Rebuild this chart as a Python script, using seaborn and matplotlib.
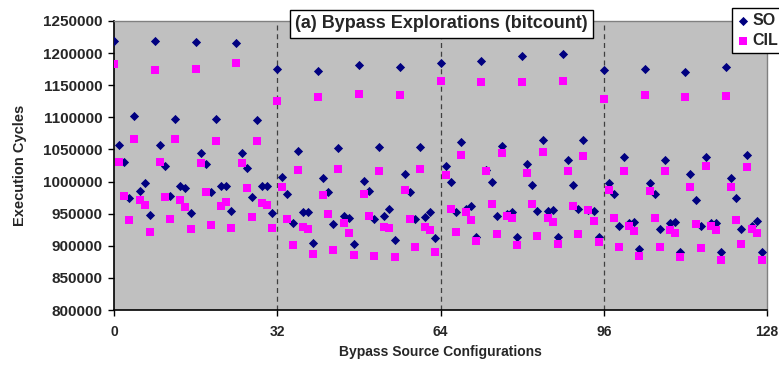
import matplotlib
matplotlib.use("Agg")
import matplotlib.pyplot as plt
import seaborn as sns
import pandas as pd

# Bypass source configurations 0..127 and execution cycles
configs = list(range(128))

so_cycles = [
    1219000, 1057000, 1031000, 975000, 1102000, 985000, 997000, 948000,
    1219000, 1057000, 1025000, 978000, 1098000, 993000, 990000, 951000,
    1217000, 1045000, 1027000, 984000, 1097000, 993000, 993000, 954000,
    1216000, 1045000, 1021000, 976000, 1096000, 993000, 993000, 951000,
    1175000, 1007000, 981000, 936000, 1048000, 952000, 952000, 904000,
    1172000, 1006000, 984000, 934000, 1052000, 946000, 944000, 903000,
    1181000, 1001000, 985000, 942000, 1054000, 947000, 957000, 909000,
    1179000, 1012000, 983000, 942000, 1054000, 945000, 953000, 912000,
    1185000, 1024000, 999000, 952000, 1062000, 958000, 962000, 913000,
    1188000, 1018000, 1000000, 946000, 1055000, 950000, 953000, 913000,
    1196000, 1028000, 995000, 954000, 1065000, 954000, 956000, 913000,
    1199000, 1033000, 995000, 957000, 1064000, 955000, 954000, 914000,
    1173000, 997000, 980000, 931000, 1038000, 935000, 937000, 895000,
    1176000, 998000, 980000, 926000, 1034000, 935000, 937000, 890000,
    1170000, 1011000, 971000, 931000, 1039000, 935000, 936000, 891000,
    1179000, 1006000, 975000, 926000, 1041000, 931000, 938000, 890000,
]

cil_cycles = [
    1183000, 1031000, 978000, 940000, 1067000, 972000, 963000, 922000,
    1174000, 1031000, 976000, 941000, 1066000, 971000, 960000, 926000,
    1175000, 1029000, 983000, 933000, 1063000, 962000, 968000, 927000,
    1184000, 1029000, 990000, 945000, 1063000, 966000, 963000, 927000,
    1125000, 991000, 941000, 901000, 1018000, 930000, 926000, 887000,
    1131000, 979000, 949000, 894000, 1020000, 936000, 920000, 886000,
    1136000, 981000, 947000, 884000, 1016000, 930000, 927000, 883000,
    1134000, 987000, 941000, 898000, 1020000, 930000, 924000, 890000,
    1157000, 1010000, 958000, 921000, 1042000, 952000, 940000, 908000,
    1155000, 1016000, 965000, 918000, 1044000, 946000, 943000, 901000,
    1155000, 1013000, 965000, 915000, 1046000, 944000, 937000, 903000,
    1156000, 1016000, 962000, 919000, 1040000, 955000, 938000, 906000,
    1129000, 987000, 944000, 898000, 1017000, 931000, 923000, 884000,
    1134000, 985000, 944000, 898000, 1016000, 925000, 920000, 882000,
    1132000, 991000, 934000, 896000, 1025000, 931000, 924000, 878000,
    1133000, 991000, 940000, 902000, 1023000, 926000, 920000, 878000,
]

y_ticks = list(range(800000, 1250001, 50000))
x_ticks = [0, 32, 64, 96, 128]
section_lines = [32, 64, 96]

so_df = pd.DataFrame({"config": configs, "cycles": so_cycles})
cil_df = pd.DataFrame({"config": configs, "cycles": cil_cycles})

sns.set_style("white")
plt.rcParams["font.family"] = ["Liberation Sans", "DejaVu Sans"]
plt.rcParams["font.weight"] = "bold"

fig = plt.figure(figsize=(7.79, 3.65), dpi=100)
ax = fig.add_axes([114 / 779, 1 - 310 / 365, 653 / 779, 289 / 365])
ax.set_facecolor("#C0C0C0")

# dashed separators between source groups
for xv in section_lines:
    ax.axvline(xv, color="#404040", linestyle=(0, (4, 3)), linewidth=0.9, zorder=1)

sns.scatterplot(data=so_df, x="config", y="cycles", marker="D", s=22,
                color="#000080", linewidth=0, label="SO", ax=ax, zorder=3)
sns.scatterplot(data=cil_df, x="config", y="cycles", marker="s", s=30,
                color="#FF00FF", linewidth=0, label="CIL", ax=ax, zorder=4)

ax.set_xlim(0, 128)
ax.set_ylim(800000, 1250000)
ax.set_xticks(x_ticks)
ax.set_xticklabels([str(v) for v in x_ticks], fontsize=10, fontweight="bold")
ax.set_yticks(y_ticks)
ax.set_yticklabels([str(v) for v in y_ticks], fontsize=11, fontweight="bold")
ax.tick_params(axis="both", direction="out", length=4, width=1, color="black",
               bottom=True, left=True)
ax.tick_params(axis="y", pad=4)
ax.tick_params(axis="x", pad=7)

for side in ["left", "bottom"]:
    ax.spines[side].set_color("black")
    ax.spines[side].set_linewidth(1.2)
for side in ["top", "right"]:
    ax.spines[side].set_color("#808080")
    ax.spines[side].set_linewidth(1.0)

ax.set_xlabel("Bypass Source Configurations", fontsize=10, fontweight="bold", labelpad=4)
ax.set_ylabel("Execution Cycles", fontsize=10.5, fontweight="bold", labelpad=12)

fig.text(441.5 / 779, 1 - 24 / 365, "(a) Bypass Explorations (bitcount)",
         ha="center", va="center", fontsize=13, fontweight="bold",
         bbox=dict(boxstyle="square,pad=0.3", facecolor="white", edgecolor="black", linewidth=1))

leg = ax.legend(loc="upper right", bbox_to_anchor=(1.005, 1 - 8 / 365),
                bbox_transform=fig.transFigure, borderaxespad=0,
                frameon=True, fancybox=False,
                framealpha=1, edgecolor="black", handletextpad=0.2,
                handlelength=0.8, borderpad=0.3, labelspacing=0.35,
                prop={"weight": "bold", "size": 11.5})
leg.get_frame().set_linewidth(1)

fig.savefig("out.png", dpi=100)
